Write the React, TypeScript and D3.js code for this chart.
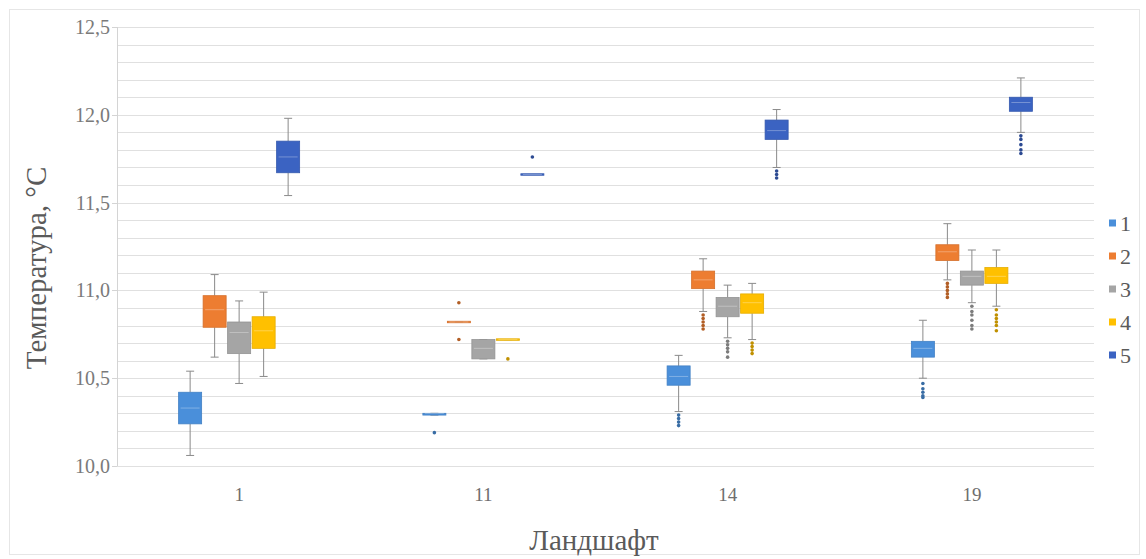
import React from "react";
import * as d3 from "d3";

const categories = ["1", "11", "14", "19"];
const seriesNames = ["1", "2", "3", "4", "5"];
const seriesColors = ["#4A8FDA", "#ED7D31", "#A5A5A5", "#FFC000", "#3B63C2"];

// per-series values for categories 1, 11, 14, 19
const whiskerLow = [
  [10.06, 10.29, 10.31, 10.5],
  [10.62, 10.82, 10.88, 11.06],
  [10.47, 10.61, 10.73, 10.93],
  [10.51, 10.72, 10.72, 10.91],
  [11.54, 11.66, 11.7, 11.9],
];
const q1 = [
  [10.24, 10.29, 10.46, 10.62],
  [10.79, 10.82, 11.01, 11.17],
  [10.64, 10.61, 10.85, 11.03],
  [10.67, 10.72, 10.87, 11.04],
  [11.67, 11.66, 11.86, 12.02],
];
const median = [
  [10.33, 10.3, 10.51, 10.67],
  [10.89, 10.82, 11.06, 11.22],
  [10.76, 10.67, 10.91, 11.08],
  [10.77, 10.72, 10.93, 11.08],
  [11.76, 11.66, 11.91, 12.07],
];
const q3 = [
  [10.42, 10.3, 10.57, 10.71],
  [10.97, 10.82, 11.11, 11.26],
  [10.82, 10.72, 10.96, 11.11],
  [10.85, 10.72, 10.98, 11.13],
  [11.85, 11.66, 11.97, 12.1],
];
const whiskerHigh = [
  [10.54, 10.3, 10.63, 10.83],
  [11.09, 10.82, 11.18, 11.38],
  [10.94, 10.72, 11.03, 11.23],
  [10.99, 10.72, 11.04, 11.23],
  [11.98, 11.66, 12.03, 12.21],
];
const outliers = [
  [[], [10.19], [10.29, 10.27, 10.25, 10.23], [10.47, 10.44, 10.42, 10.4, 10.39]],
  [[], [10.93, 10.72], [10.86, 10.84, 10.82, 10.8, 10.78], [11.04, 11.02, 11.0, 10.98, 10.96]],
  [[], [], [10.71, 10.69, 10.67, 10.65, 10.62], [10.91, 10.88, 10.86, 10.83, 10.8, 10.78]],
  [[], [10.61], [10.7, 10.68, 10.66, 10.64], [10.89, 10.86, 10.84, 10.82, 10.8, 10.77]],
  [[], [11.76], [11.68, 11.66, 11.64], [11.88, 11.86, 11.83, 11.8, 11.78]],
];

const yTicks = [10, 10.5, 11, 11.5, 12, 12.5];
const yMin = 10;
const yMax = 12.5;

const W = 1146;
const H = 559;
const plot = { left: 117, right: 1094, top: 27, bottom: 466 };
const FONT = "'Liberation Serif', 'Times New Roman', serif";

export default function App() {
  const x = d3.scaleBand().domain(categories).range([plot.left, plot.right]);
  const xs = d3
    .scaleBand()
    .domain(seriesNames)
    .range([-61.25, 61.25])
    .paddingInner(0.06)
    .paddingOuter(0.03);
  const y = d3.scaleLinear().domain([yMin, yMax]).range([plot.bottom, plot.top]);
  const grid = d3.range(0, 26).map((i) => yMin + i * 0.1);
  const fmt = (v: number) => d3.format(".1f")(v).replace(".", ",");
  const bw = xs.bandwidth();

  return (
    <svg
      width={W}
      height={H}
      style={{ position: "absolute", left: 0, top: 0, background: "#fff" }}
      fontFamily={FONT}
    >
      <rect x={9.5} y={9.5} width={W - 16} height={H - 14} fill="#fff" stroke="#e6e6e6" />
      {grid.map((g, i) => (
        <line
          key={"g" + i}
          x1={plot.left}
          x2={plot.right}
          y1={Math.round(y(g)) + 0.5}
          y2={Math.round(y(g)) + 0.5}
          stroke="#e0e0e0"
          strokeWidth={1}
        />
      ))}
      <line x1={plot.left + 0.5} x2={plot.left + 0.5} y1={plot.top} y2={plot.bottom} stroke="#d4d4d4" />
      {yTicks.map((t) => (
        <g key={"yt" + t}>
          <line x1={plot.left - 5} x2={plot.left} y1={Math.round(y(t)) + 0.5} y2={Math.round(y(t)) + 0.5} stroke="#d4d4d4" />
          <text x={plot.left - 7} y={y(t)} dy="0.35em" textAnchor="end" fontSize={20} fill="#7a7a7a">
            {fmt(t)}
          </text>
        </g>
      ))}
      {categories.map((c) => (
        <text key={"xt" + c} x={(x(c) as number) + x.bandwidth() / 2} y={494} dy="0.35em" textAnchor="middle" fontSize={19} fill="#6e6e6e">
          {c}
        </text>
      ))}
      <text x={594} y={540} dy="0.35em" textAnchor="middle" fontSize={29} fill="#5a5a5a">
        Ландшафт
      </text>
      <text
        transform={`translate(36,268) rotate(-90)`}
        dy="0.35em"
        textAnchor="middle"
        fontSize={29}
        fill="#5a5a5a"
      >
        Температура, °C
      </text>

      {seriesNames.map((s, si) => (
        <g key={"s" + s}>
          {categories.map((c, ci) => {
            const cx = (x(c) as number) + x.bandwidth() / 2 + (xs(s) as number) + bw / 2;
            const left = cx - bw / 2;
            const yq1 = y(q1[si][ci]);
            const yq3 = y(q3[si][ci]);
            const h = Math.max(yq1 - yq3, 1.5);
            return (
              <g key={"b" + ci}>
                <line x1={cx} x2={cx} y1={y(whiskerHigh[si][ci])} y2={yq3} stroke="#8a8a8a" />
                <line x1={cx} x2={cx} y1={yq1} y2={y(whiskerLow[si][ci])} stroke="#8a8a8a" />
                <line x1={cx - 4} x2={cx + 4} y1={y(whiskerHigh[si][ci])} y2={y(whiskerHigh[si][ci])} stroke="#8a8a8a" />
                <line x1={cx - 4} x2={cx + 4} y1={y(whiskerLow[si][ci])} y2={y(whiskerLow[si][ci])} stroke="#8a8a8a" />
                <rect x={left} y={yq3 - (h - (yq1 - yq3)) / 2} width={bw} height={h} fill={seriesColors[si]} stroke={d3.color(seriesColors[si])!.darker(0.3).toString()} strokeWidth={0.8} />
                <line x1={left + 2} x2={left + bw - 2} y1={y(median[si][ci])} y2={y(median[si][ci])} stroke="#ffffff" strokeOpacity={0.3} />
                {outliers[si][ci].map((o, oi) => (
                  <circle key={"o" + oi} cx={cx} cy={y(o)} r={1.8} fill={d3.color(seriesColors[si])!.darker(0.8).toString()} />
                ))}
              </g>
            );
          })}
        </g>
      ))}

      {seriesNames.map((s, si) => (
        <g key={"l" + s} transform={`translate(1109,${223 + si * 33})`}>
          <rect x={0} y={-3.5} width={7} height={7} fill={seriesColors[si]} />
          <text x={11} y={0} dy="0.35em" fontSize={22} fill="#5a5a5a">
            {s}
          </text>
        </g>
      ))}
    </svg>
  );
}
